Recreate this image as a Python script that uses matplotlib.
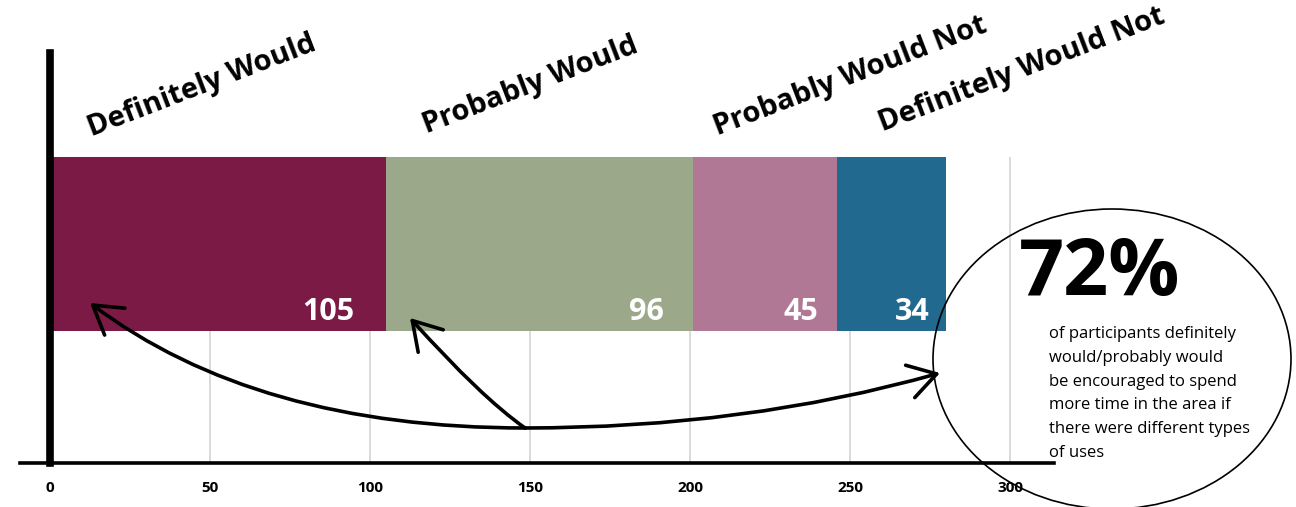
import matplotlib.pyplot as plt
import numpy as np
from matplotlib.patches import Ellipse, FancyArrowPatch
from matplotlib.path import Path

categories = ["Definitely Would", "Probably Would", "Probably Would Not", "Definitely Would Not"]
counts = [105, 96, 45, 34]
colors = ["#7b1a45", "#9ba889", "#b17895", "#22698f"]
xticks = [0, 50, 100, 150, 200, 250, 300]
headline = "72%"
note = ("of participants definitely\nwould/probably would\nbe encouraged to spend\n"
        "more time in the area if\nthere were different types\nof uses")

W, H = 1296, 507
fig = plt.figure(figsize=(W / 100, H / 100), dpi=100)
plt.rcParams['font.family'] = ['Open Sans', 'DejaVu Sans']

# bar axes: value 0 sits at px 50, 3.2 px per unit
ax = fig.add_axes([20 / W, 44 / H, 1034 / W, 410 / H])
ax.set_xlim((20 - 50) / 3.2, (1054 - 50) / 3.2)
ax.set_ylim(0, 1)

bar_y, bar_h = 0.534, 0.424
lefts = np.concatenate([[0], np.cumsum(counts)[:-1]])
ax.vlines(xticks[1:], 0, bar_y + bar_h / 2, color="#d4d4d4", lw=1.2, zorder=0)
ax.barh(bar_y, counts, left=lefts, height=bar_h, color=colors, zorder=2)

for left, c in zip(lefts, counts):
    ax.text(left + c - (3 + c * 0.065), 0.368, str(c), ha="right", va="center",
            color="white", fontsize=22, fontweight="bold", zorder=3)

for s in ["top", "right"]:
    ax.spines[s].set_visible(False)
ax.spines["left"].set_position(("data", 0))
ax.spines["left"].set_linewidth(5.5)
ax.spines["bottom"].set_linewidth(2.6)
ax.set_yticks([])
ax.set_xticks(xticks)
ax.set_xticklabels([str(t) for t in xticks], fontsize=11, fontweight="bold")
ax.tick_params(axis="x", length=0, pad=13)

# overlay in pixel coords for labels, callout and arrows
ov = fig.add_axes([0, 0, 1, 1])
ov.set_xlim(0, W)
ov.set_ylim(H, 0)
ov.axis("off")
ov.patch.set_alpha(0)

label_pos = [(202, 86), (530, 86), (850, 76), (1022, 70)]
for name, (x, y) in zip(categories, label_pos):
    ov.text(x, y, name, rotation=21, ha="center", va="center", rotation_mode="anchor",
            fontsize=21, fontweight="bold")

ov.add_patch(Ellipse((1112, 359), 358, 300, fill=False, ec="black", lw=1.2))
ov.text(1100, 274, headline, ha="center", va="center", fontsize=57, fontweight="bold")
ov.text(1049, 326, note, ha="left", va="top", fontsize=12, linespacing=1.65)

hub = (525, 428)
curves = [
    [hub, (256, 428), (90, 303)],
    [hub, (481, 397), (410, 318)],
    [hub, (745, 428), (940, 373)],
]
for pts in curves:
    p = Path(pts, [Path.MOVETO, Path.CURVE3, Path.CURVE3])
    ov.add_patch(FancyArrowPatch(path=p, arrowstyle="->,head_length=0.9,head_width=0.55",
                                 mutation_scale=22, lw=2.6, color="black"))

fig.savefig("out.png", dpi=100)
